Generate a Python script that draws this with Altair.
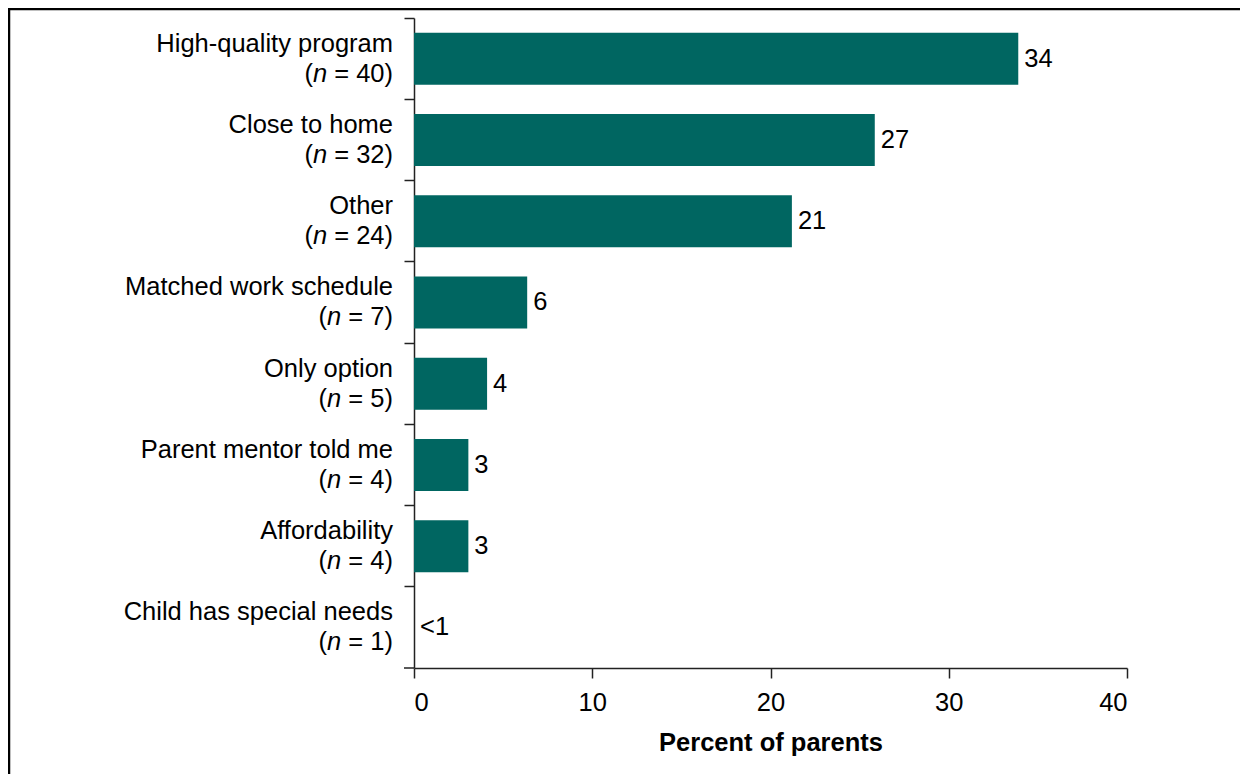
import altair as alt
import pandas as pd

# ---- data ----
categories = [
    "High-quality program",
    "Close to home",
    "Other",
    "Matched work schedule",
    "Only option",
    "Parent mentor told me",
    "Affordability",
    "Child has special needs",
]
n_counts = [40, 32, 24, 7, 5, 4, 4, 1]
bar_values = [33.9, 25.85, 21.2, 6.35, 4.1, 3.05, 3.05, 0.0]
value_labels = ["34", "27", "21", "6", "4", "3", "3", "<1"]
x_ticks = [0, 10, 20, 30, 40]

df = pd.DataFrame({
    "category": categories,
    "n": n_counts,
    "value": bar_values,
    "label": value_labels,
    "tail": [f" = {v})" for v in n_counts],
})

# ---- layout / style ----
FONT = "Liberation Sans"
FS = 25.5
COLOR = "#006661"
W, H = 713, 650
PAD = {"left": 406, "top": 10, "right": 113, "bottom": 106}
RIGHT = -21  # right edge of the category labels, px from the y axis

ARIAL = {" ": 0.278, "=": 0.584, "(": 0.333, ")": 0.333,
         **{d: 0.556 for d in "0123456789"}}


def text_w(s):
    return sum(ARIAL[c] for c in s) * FS


N_W = 0.556 * FS

base = alt.Chart(df)
y_enc = alt.Y(
    "category:N", sort=categories,
    scale=alt.Scale(paddingInner=0, paddingOuter=0),
    axis=alt.Axis(labels=False, title=None, bandPosition=0, tickSize=10,
                  domainColor="#222222", tickColor="#222222",
                  domainWidth=1.5, tickWidth=1.5),
)

bars = base.mark_bar(color=COLOR, height={"band": 0.64}).encode(
    x=alt.X("value:Q", scale=alt.Scale(domain=[0, 40], nice=False),
            axis=alt.Axis(values=x_ticks, grid=False, tickSize=10,
                          labelFontSize=FS, labelFont=FONT, labelColor="black",
                          labelPadding=12, domainColor="#222222",
                          tickColor="#222222", domainWidth=1.5, tickWidth=1.5,
                          title="Percent of parents", titleFont=FONT,
                          titleFontSize=FS, titleFontWeight="bold",
                          titleColor="black", titlePadding=15)),
    y=y_enc,
)

vals = base.mark_text(align="left", baseline="middle", dx=6, font=FONT,
                      fontSize=FS, color="black").encode(
    x="value:Q", y=y_enc, text="label:N")

line1 = base.mark_text(align="right", baseline="middle", dx=RIGHT, dy=-15,
                       font=FONT, fontSize=FS, color="black").encode(
    x=alt.value(0), y=y_enc, text="category:N")

tail = base.mark_text(align="right", baseline="middle", dx=RIGHT, dy=15,
                      font=FONT, fontSize=FS, color="black").encode(
    x=alt.value(0), y=y_enc, text="tail:N")

layers = [bars, vals, line1, tail]
for cond, sample in [("datum.n >= 10", " = 40)"), ("datum.n < 10", " = 5)")]:
    tw = text_w(sample)
    n_layer = base.transform_filter(cond).mark_text(
        align="right", baseline="middle", dx=RIGHT - tw, dy=15, font=FONT,
        fontSize=FS, fontStyle="italic", color="black").encode(
        x=alt.value(0), y=y_enc, text=alt.value("n"))
    p_layer = base.transform_filter(cond).mark_text(
        align="right", baseline="middle", dx=RIGHT - tw - N_W, dy=15,
        font=FONT, fontSize=FS, color="black").encode(
        x=alt.value(0), y=y_enc, text=alt.value("("))
    layers += [n_layer, p_layer]

one = alt.Chart(pd.DataFrame({"a": [0]}))
bottom_tick = one.mark_rule(color="#222222", strokeWidth=1.5).encode(
    x=alt.value(-10), x2=alt.value(0), y=alt.value(H))
frame_left = one.mark_rule(color="black", strokeWidth=2.5).encode(
    x=alt.value(-PAD["left"] + 1), y=alt.value(-PAD["top"]),
    y2=alt.value(H + PAD["bottom"]))
frame_top = one.mark_rule(color="black", strokeWidth=2.5).encode(
    x=alt.value(-PAD["left"]), x2=alt.value(W + PAD["right"]),
    y=alt.value(-PAD["top"] + 1))
layers += [bottom_tick, frame_left, frame_top]

chart = alt.layer(*layers).properties(
    width=W, height=H,
    autosize=alt.AutoSizeParams(type="none"),
    padding=PAD,
    background="white",
).configure_view(stroke=None)

chart.save("out.html", embed_options={"renderer": "svg", "actions": False})
